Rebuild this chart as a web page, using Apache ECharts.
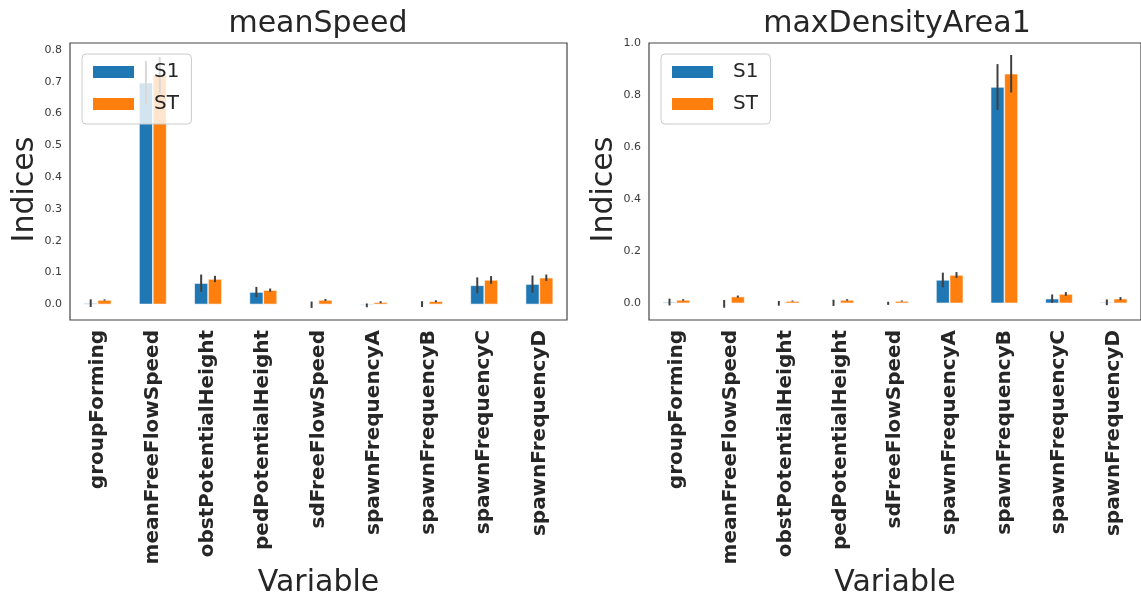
<!DOCTYPE html>
<html>
<head>
<meta charset="utf-8">
<script src="https://cdn.jsdelivr.net/npm/echarts@6/dist/echarts.min.js"></script>
<style>
  html, body { margin: 0; padding: 0; background: #fff; }
  #chart { width: 1141px; height: 602px; }
</style>
</head>
<body>
<div id="chart"></div>
<script>
// Sobol sensitivity indices (first order S1, total ST) with confidence intervals
const categories = ['groupForming', 'meanFreeFlowSpeed', 'obstPotentialHeight', 'pedPotentialHeight',
  'sdFreeFlowSpeed', 'spawnFrequencyA', 'spawnFrequencyB', 'spawnFrequencyC', 'spawnFrequencyD'];

// meanSpeed
const speedS1     = [0.004, 0.697, 0.067, 0.039, -0.001, -0.003, 0.001, 0.060, 0.064];
const speedS1Conf = [0.012, 0.068, 0.027, 0.016, 0.010, 0.006, 0.009, 0.025, 0.027];
const speedST     = [0.014, 0.721, 0.080, 0.045, 0.014, 0.007, 0.010, 0.077, 0.084];
const speedSTConf = [0.002, 0.057, 0.010, 0.005, 0.003, 0.003, 0.003, 0.012, 0.010];

// maxDensityArea1
const densS1     = [0.005, -0.002, 0.000, 0.002, 0.000, 0.090, 0.831, 0.018, 0.004];
const densS1Conf = [0.013, 0.015, 0.009, 0.012, 0.006, 0.028, 0.088, 0.016, 0.011];
const densST     = [0.013, 0.026, 0.009, 0.013, 0.009, 0.109, 0.882, 0.036, 0.018];
const densSTConf = [0.003, 0.004, 0.002, 0.003, 0.002, 0.011, 0.072, 0.007, 0.006];

const speedTicks = [0, 0.1, 0.2, 0.3, 0.4, 0.5, 0.6, 0.7, 0.8];
const densTicks  = [0, 0.2, 0.4, 0.6, 0.8, 1.0];

const FONT = 'DejaVu Sans';
const TEXT = '#262626';
const BLUE = '#1f77b4';
const ORANGE = '#ff7f0e';

function errData(vals, conf) {
  return vals.map((v, i) => [i, v, conf[i]]);
}

// vertical confidence line centred on the bar of the given side (-1 left bar, +1 right bar)
function errRenderer(side) {
  return function (params, api) {
    const i = api.value(0), v = api.value(1), e = api.value(2);
    const band = api.size([1, 0])[0];
    const off = side * band * 0.125;
    const hi = api.coord([i, v + e]);
    const lo = api.coord([i, v - e]);
    return {
      type: 'line',
      shape: { x1: hi[0] + off, y1: hi[1], x2: hi[0] + off, y2: lo[1] },
      style: { stroke: '#404040', lineWidth: 2 }
    };
  };
}

function xAxis(gridIndex) {
  return {
    type: 'category', gridIndex, data: categories,
    axisLine: { show: false }, axisTick: { show: false },
    axisLabel: { rotate: 90, margin: 10, fontFamily: FONT, fontSize: 20, fontWeight: 'bold', color: TEXT },
    name: 'Variable', nameLocation: 'middle', nameGap: 246,
    nameTextStyle: { fontFamily: FONT, fontSize: 30, color: TEXT }
  };
}

function yAxis(gridIndex, min, max, ticks) {
  return {
    type: 'value', gridIndex, min, max,
    splitLine: { show: false }, axisLine: { show: false }, axisTick: { show: false },
    axisLabel: {
      customValues: ticks, margin: 8, fontFamily: FONT, fontSize: 11, color: '#3a3a3a',
      formatter: v => v.toFixed(1)
    },
    name: 'Indices', nameLocation: 'middle', nameGap: 29, nameRotate: 90,
    nameTextStyle: { fontFamily: FONT, fontSize: 30, color: TEXT, padding: [0, 16, 0, 0] }
  };
}

function barSeries(name, color, idx, data) {
  return {
    type: 'bar', name, xAxisIndex: idx, yAxisIndex: idx, data,
    barWidth: '25%', barGap: '0%',
    itemStyle: { color, borderColor: '#ffffff', borderWidth: 0.6 },
    z: 2
  };
}

function errSeries(name, idx, side, vals, conf) {
  return {
    type: 'custom', name, xAxisIndex: idx, yAxisIndex: idx,
    data: errData(vals, conf), renderItem: errRenderer(side), z: 3, silent: true
  };
}

function legend(left) {
  return {
    left, top: 54, orient: 'vertical', data: ['S1', 'ST'], icon: 'rect',
    itemWidth: 43, itemHeight: 14, itemGap: 12, padding: [8, 12, 10, 9],
    borderColor: '#cccccc', borderWidth: 1, borderRadius: 4,
    backgroundColor: 'rgba(255,255,255,0.8)', selectedMode: false,
    textStyle: { fontFamily: FONT, fontSize: 20, color: TEXT, padding: [0, 0, 0, 14] },
    z: 10
  };
}

const chart = echarts.init(document.getElementById('chart'), null, { renderer: 'canvas' });
chart.setOption({
  animation: false,
  backgroundColor: '#ffffff',
  title: [
    { text: 'meanSpeed', left: 318, top: 9, textAlign: 'center', padding: 0,
      textStyle: { fontFamily: FONT, fontSize: 30, fontWeight: 'normal', color: TEXT } },
    { text: 'maxDensityArea1', left: 897, top: 9, textAlign: 'center', padding: 0,
      textStyle: { fontFamily: FONT, fontSize: 30, fontWeight: 'normal', color: TEXT } }
  ],
  legend: [legend(82), legend(661)],
  grid: [
    { left: 70, top: 43, width: 497, height: 277, show: true, borderColor: '#444', borderWidth: 1.2, backgroundColor: 'transparent' },
    { left: 649, top: 43, width: 497, height: 277, show: true, borderColor: '#444', borderWidth: 1.2, backgroundColor: 'transparent' }
  ],
  xAxis: [xAxis(0), xAxis(1)],
  yAxis: [yAxis(0, -0.049, 0.822, speedTicks), yAxis(1, -0.064, 1.0, densTicks)],
  series: [
    barSeries('S1', BLUE, 0, speedS1),
    barSeries('ST', ORANGE, 0, speedST),
    errSeries('S1 conf', 0, -1, speedS1, speedS1Conf),
    errSeries('ST conf', 0, 1, speedST, speedSTConf),
    barSeries('S1', BLUE, 1, densS1),
    barSeries('ST', ORANGE, 1, densST),
    errSeries('S1 conf', 1, -1, densS1, densS1Conf),
    errSeries('ST conf', 1, 1, densST, densSTConf)
  ]
});
</script>
</body>
</html>
